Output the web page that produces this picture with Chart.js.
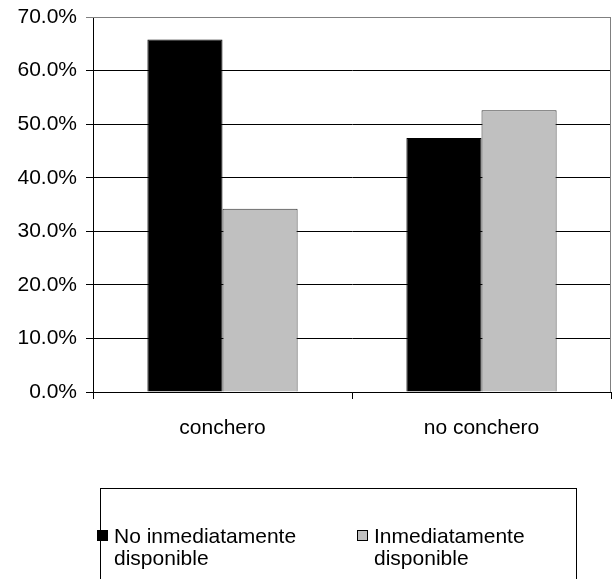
<!DOCTYPE html>
<html>
<head>
<meta charset="utf-8">
<script src="https://cdn.jsdelivr.net/npm/chart.js@4"></script>
<style>
  html, body { margin: 0; padding: 0; background: #fff; }
  #wrap { width: 615px; height: 579px; position: relative; }
</style>
</head>
<body>
<div id="wrap"><canvas id="myChart" width="615" height="579"></canvas></div>
<script>
// chart data
var categories = ["conchero", "no conchero"];
var seriesNames = [["No inmediatamente", "disponible"], ["Inmediatamente", "disponible"]];
var noInmediato = [65.8, 47.4];
var inmediato = [34.2, 52.6];
var yTicks = [0, 10, 20, 30, 40, 50, 60, 70];

var FONT = "'Liberation Sans', Arial, sans-serif";

// draws the top/right frame of the plot and the boxed legend underneath
var framePlugin = {
  id: "frame",
  beforeDatasetsDraw: function (chart) {
    var a = chart.chartArea, c = chart.ctx;
    c.save();
    c.strokeStyle = "#808080";
    c.lineWidth = 1;
    c.beginPath();
    c.moveTo(a.left, a.top + 0.5);
    c.lineTo(a.right - 0.5, a.top + 0.5);
    c.lineTo(a.right - 0.5, a.bottom);
    c.stroke();
    c.restore();
  },
  afterDraw: function (chart) {
    var c = chart.ctx;
    var ds = chart.data.datasets;
    c.save();
    c.strokeStyle = "#000";
    c.lineWidth = 1;
    c.strokeRect(100.5, 488.5, 476, 120);
    c.font = "21px " + FONT;
    c.textBaseline = "alphabetic";
    var xs = [97, 357];
    ds.forEach(function (d, i) {
      c.fillStyle = d.backgroundColor;
      c.fillRect(xs[i], 530, 11, 11);
      c.strokeStyle = "#000";
      c.strokeRect(xs[i] + 0.5, 530.5, 10, 10);
      c.fillStyle = "#000";
      c.fillText(seriesNames[i][0], xs[i] + 17, 543);
      c.fillText(seriesNames[i][1], xs[i] + 17, 565);
    });
    c.restore();
  }
};

var ctx = document.getElementById("myChart").getContext("2d");
var myChart = new Chart(ctx, {
  type: "bar",
  data: {
    labels: categories,
    datasets: [
      {
        label: seriesNames[0].join(" "),
        data: noInmediato,
        backgroundColor: "#000000",
        borderColor: "#000000",
        borderWidth: 1
      },
      {
        label: seriesNames[1].join(" "),
        data: inmediato,
        backgroundColor: "#C0C0C0",
        borderColor: "#333333",
        borderWidth: 1
      }
    ]
  },
  options: {
    responsive: false,
    animation: false,
    layout: { padding: { top: 17, right: 4, left: 0, bottom: 0 } },
    plugins: {
      legend: { display: false },
      tooltip: { enabled: false }
    },
    datasets: {
      bar: { categoryPercentage: 0.58, barPercentage: 1 }
    },
    scales: {
      x: {
        offset: true,
        grid: {
          offset: true,
          drawOnChartArea: false,
          color: "#000",
          tickLength: 7
        },
        border: { color: "#000" },
        ticks: {
          color: "#000",
          font: { family: FONT, size: 21 },
          padding: 17,
          maxRotation: 0
        },
        afterFit: function (scale) { scale.height = 187; }
      },
      y: {
        min: 0,
        max: 70,
        afterBuildTicks: function (scale) {
          scale.ticks = yTicks.map(function (v) { return { value: v }; });
        },
        grid: {
          color: function (c) { return c.tick && c.tick.value === 70 ? "#808080" : "#000"; },
          tickLength: 7
        },
        border: { color: "#000" },
        ticks: {
          color: "#000",
          font: { family: FONT, size: 21, lineHeight: 0.6 },
          padding: 9,
          callback: function (v) { return v.toFixed(1) + "%"; }
        },
        afterFit: function (scale) { scale.width = 93; }
      }
    }
  },
  plugins: [framePlugin]
});
</script>
</body>
</html>
